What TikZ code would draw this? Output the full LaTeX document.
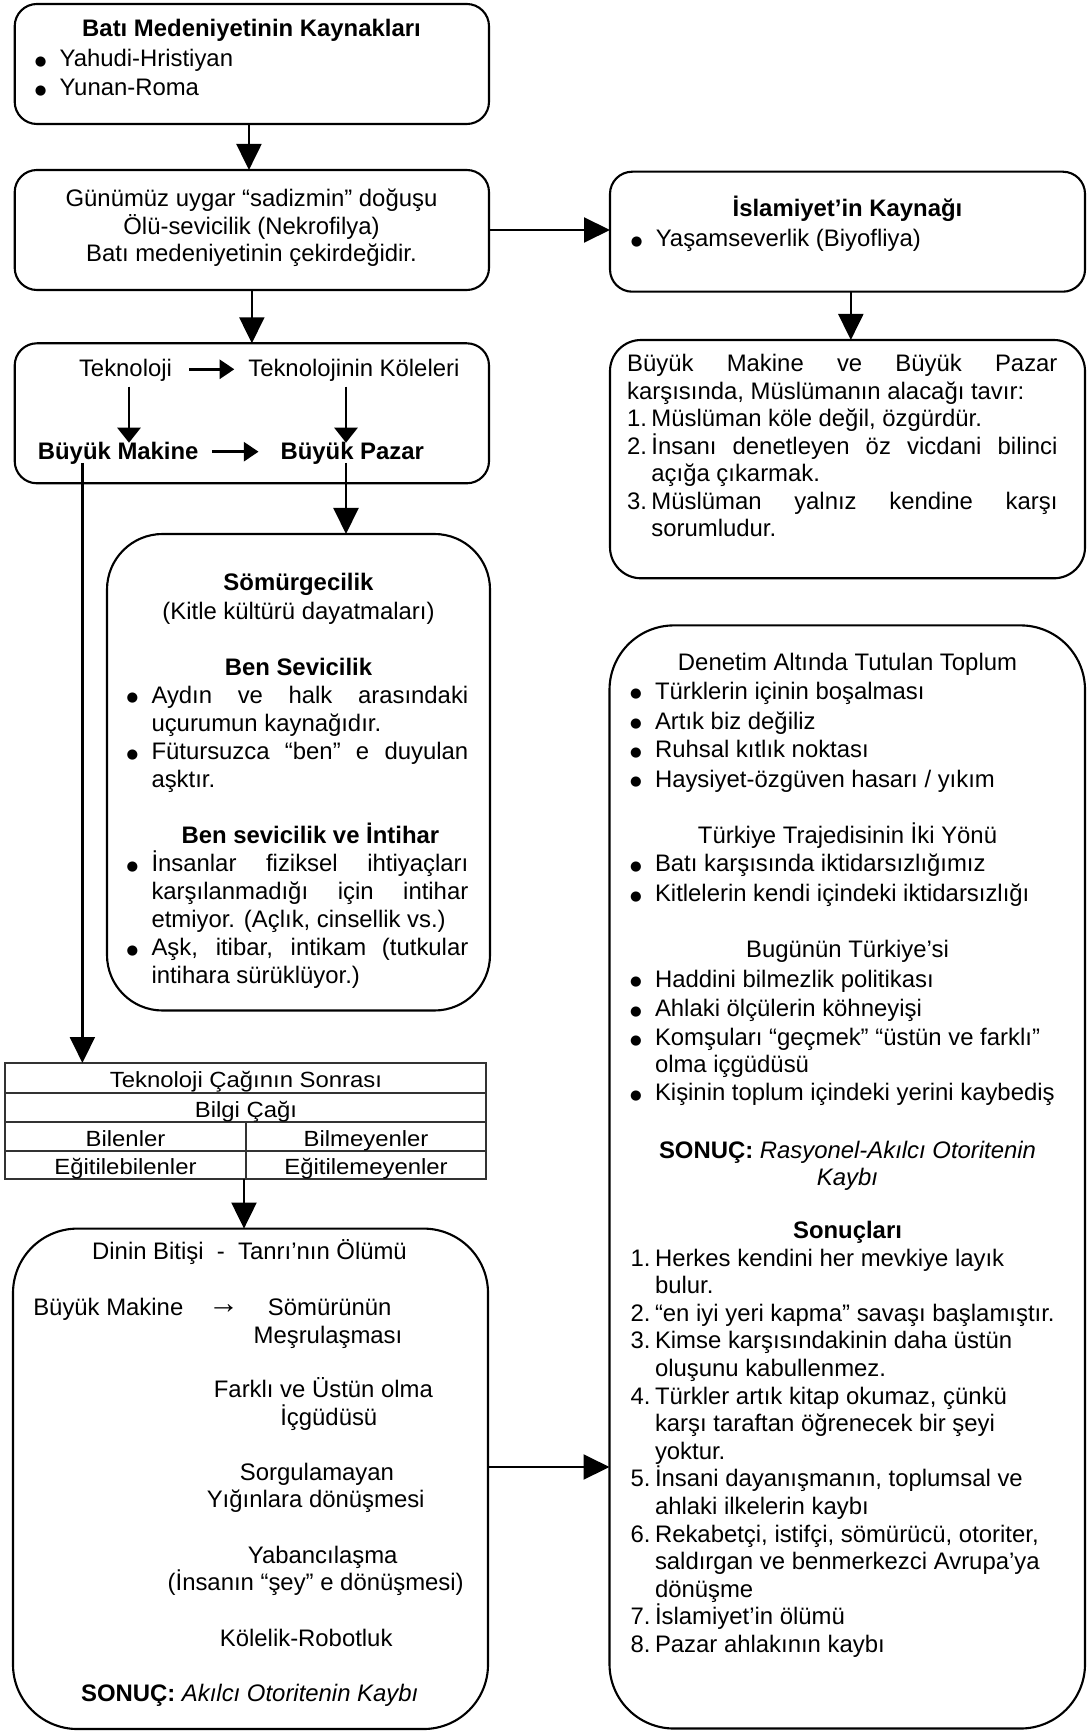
\documentclass[tikz,border=0pt]{standalone}
\usepackage{fontspec}
\setmainfont{Liberation Sans}
\newfontfamily\dotfont{DejaVu Sans}
\usepackage{graphicx}
\usetikzlibrary{arrows.meta,fit}

% one drawing unit
\newlength\pxu
\setlength\pxu{0.45pt}
\newcommand\fs{\fontsize{10.75pt}{12.4pt}\selectfont}
% bullet hung to the left of the text start
\newcommand\bul{\llap{\makebox[38\pxu][c]{\raisebox{0.6pt}{\dotfont\fontsize{6pt}{6pt}\selectfont ●}}}}
% list number hung to the left of the text start
\newcommand\itm[1]{\llap{\makebox[24.3\pxu][l]{#1}}}
% justified line of a given width
\newcommand\jst[2]{\makebox[#1\pxu][s]{#2}}
% slightly condensed table text
\newcommand\sq[1]{\scalebox{1}[0.92]{#1}}

\begin{document}
\begin{tikzpicture}[x=0.45pt,y=-0.45pt,
  box/.style={draw, line width=0.95pt, inner sep=0pt, outer sep=0pt},
  tblline/.style={draw=black!80, line width=0.55pt},
  tc/.style={anchor=base, inner sep=0pt, outer sep=0pt, font=\fs},
  tl/.style={anchor=base west, inner sep=0pt, outer sep=0pt, font=\fs},
  arr/.style={line width=1.1pt, -{Triangle[length=11.7pt,width=11.2pt]}},
  darr/.style={line width=1.1pt, -{Triangle[length=6.8pt,width=10.5pt]}},
  harr/.style={line width=1.1pt, -{Triangle[length=6.6pt,width=8.6pt]}}]

\path[use as bounding box, fill=white] (0,0) rectangle (1087,1731);

% ---------- frames ----------
\node[box, rounded corners=10pt, fit={(14.7,4) (489,124)}] (b1) {};
\node[box, rounded corners=10pt, fit={(14.7,170) (489,290)}] (b2) {};
\node[box, rounded corners=10pt, fit={(14.7,343.3) (489,483.3)}] (b3) {};
\node[box, rounded corners=25pt, fit={(107,534) (490,1010.5)}] (b4) {};
\node[tblline, inner sep=0pt, outer sep=0pt, fit={(5,1063) (486,1179)}] (tbl) {};
\node[box, rounded corners=29pt, fit={(13,1228.6) (488,1729)}] (b8) {};
\node[box, rounded corners=10pt, fit={(610,171.7) (1085,291.7)}] (b5) {};
\node[box, rounded corners=14pt, fit={(610,340) (1085,578.3)}] (b6) {};
\node[box, rounded corners=29pt, fit={(609.5,625.4) (1085,1728.5)}] (b7) {};

% table rules
\draw[tblline] (5,1093) -- (486,1093);
\draw[tblline] (5,1122) -- (486,1122);
\draw[tblline] (5,1151) -- (486,1151);
\draw[tblline] (246,1122) -- (246,1179);

% ---------- Batı Medeniyetinin Kaynakları ----------
\node[tc] (b1t) at (251.5,36.7) {\textbf{Batı Medeniyetinin Kaynakları}};
\node[tl] (b1a) at (59.6,66.7) {\bul Yahudi-Hristiyan};
\node[tl] (b1b) at (59.6,96) {\bul Yunan-Roma};

% ---------- sadizm ----------
\node[tc] (b2a) at (251.5,207) {Günümüz uygar “sadizmin” doğuşu};
\node[tc] (b2b) at (251.5,234.5) {Ölü-sevicilik (Nekrofilya)};
\node[tc] (b2c) at (251.5,262) {Batı medeniyetinin çekirdeğidir.};

% ---------- teknoloji ----------
\node[tl] (tk) at (79,376.7) {Teknoloji};
\node[tl] (tkk) at (248.3,376.7) {Teknolojinin Köleleri};
\node[tl] (bm) at (37.9,460) {\textbf{Büyük Makine}};
\node[tl] (bp) at (280.6,460) {\textbf{Büyük Pazar}};

% ---------- Sömürgecilik ----------
\node[tc] (s1) at (298.5,591) {\textbf{Sömürgecilik}};
\node[tc] (s2) at (298.5,619.1) {(Kitle kültürü dayatmaları)};
\node[tc] (s3) at (298.5,675.2) {\textbf{Ben Sevicilik}};
\node[tl] (s4) at (151.5,703.2) {\bul\jst{316.8}{Aydın ve halk arasındaki}};
\node[tl] (s5) at (151.5,731.3) {uçurumun kaynağıdır.};
\node[tl] (s6) at (151.5,759.4) {\bul\jst{316.8}{Fütursuzca “ben” e duyulan}};
\node[tl] (s7) at (151.5,787.4) {aşktır.};
\node[tc] (s8) at (310.4,843.5) {\textbf{Ben sevicilik ve İntihar}};
\node[tl] (s9) at (151.5,871.6) {\bul\jst{316.8}{İnsanlar fiziksel ihtiyaçları}};
\node[tl] (s10) at (151.5,899.7) {\jst{316.8}{karşılanmadığı için intihar}};
\node[tl] (s11) at (151.5,927.7) {etmiyor. (Açlık, cinsellik vs.)};
\node[tl] (s12) at (151.5,955.8) {\bul\jst{316.8}{Aşk, itibar, intikam (tutkular}};
\node[tl] (s13) at (151.5,983.8) {intihara sürüklüyor.)};

% ---------- table ----------
\node[tc] (r1) at (246,1087) {\sq{Teknoloji Çağının Sonrası}};
\node[tc] (r2) at (246,1117) {\sq{Bilgi Çağı}};
\node[tc] (r3a) at (125.5,1146) {\sq{Bilenler}};
\node[tc] (r3b) at (366,1146) {\sq{Bilmeyenler}};
\node[tc] (r4a) at (125.5,1174) {\sq{Eğitilebilenler}};
\node[tc] (r4b) at (366,1174) {\sq{Eğitilemeyenler}};

% ---------- Dinin Bitişi ----------
\node[tc] (d1) at (249.5,1259) {Dinin Bitişi\ \ -\ \ Tanrı’nın Ölümü};
\node[tl] (d2) at (33.3,1315.5) {Büyük Makine};
\node[tc] (d3) at (223.6,1315.5) {\raisebox{0.8pt}{\scalebox{1.3}{→}}};
\node[tc] (d4) at (329.7,1315.5) {Sömürünün};
\node[tc] (d5) at (328,1343.2) {Meşrulaşması};
\node[tc] (d6) at (323.4,1397) {Farklı ve Üstün olma};
\node[tc] (d7) at (328.8,1425.6) {İçgüdüsü};
\node[tc] (d8) at (317,1480.7) {Sorgulamayan};
\node[tc] (d9) at (315.7,1507.2) {Yığınlara dönüşmesi};
\node[tc] (d10) at (322.7,1563.6) {Yabancılaşma};
\node[tc] (d11) at (315.7,1590.9) {(İnsanın “şey” e dönüşmesi)};
\node[tc] (d12) at (306.2,1646) {Kölelik-Robotluk};
\node[tc] (d13) at (249.7,1701) {\textbf{SONUÇ:} \textit{Akılcı Otoritenin Kaybı}};

% ---------- İslamiyet'in Kaynağı ----------
\node[tc] (i1) at (847.5,216.7) {\textbf{İslamiyet’in Kaynağı}};
\node[tl] (i2) at (655.8,246.7) {\bul Yaşamseverlik (Biyofliya)};

% ---------- Müslümanın tavrı ----------
\node[tl] (m1) at (627.2,371.7) {\jst{430.3}{Büyük Makine ve Büyük Pazar}};
\node[tl] (m2) at (627.2,399.2) {karşısında, Müslümanın alacağı tavır:};
\node[tl] (m3) at (651.4,426.7) {\itm{1.}Müslüman köle değil, özgürdür.};
\node[tl] (m4) at (651.4,454.2) {\itm{2.}\jst{406.1}{İnsanı denetleyen öz vicdani bilinci}};
\node[tl] (m5) at (651.4,481.7) {açığa çıkarmak.};
\node[tl] (m6) at (651.4,509.2) {\itm{3.}\jst{406.1}{Müslüman yalnız kendine karşı}};
\node[tl] (m7) at (651.4,536.7) {sorumludur.};

% ---------- Denetim Altında Tutulan Toplum ----------
\node[tc] (n1) at (847.5,670) {Denetim Altında Tutulan Toplum};
\node[tl] (n2) at (655,699.3) {\bul Türklerin içinin boşalması};
\node[tl] (n3) at (655,729) {\bul Artık biz değiliz};
\node[tl] (n4) at (655,757.5) {\bul Ruhsal kıtlık noktası};
\node[tl] (n5) at (655,787.1) {\bul Haysiyet-özgüven hasarı / yıkım};
\node[tc] (n6) at (847.5,843.2) {Türkiye Trajedisinin İki Yönü};
\node[tl] (n7) at (655,871.8) {\bul Batı karşısında iktidarsızlığımız};
\node[tl] (n8) at (655,901.4) {\bul Kitlelerin kendi içindeki iktidarsızlığı};
\node[tc] (n9) at (847.5,957.5) {Bugünün Türkiye’si};
\node[tl] (n10) at (655,987.1) {\bul Haddini bilmezlik politikası};
\node[tl] (n11) at (655,1016.4) {\bul Ahlaki ölçülerin köhneyişi};
\node[tl] (n12) at (655,1045.7) {\bul Komşuları “geçmek” “üstün ve farklı”};
\node[tl] (n13) at (655,1072) {olma içgüdüsü};
\node[tl] (n14) at (655,1100.4) {\bul Kişinin toplum içindeki yerini kaybediş};
\node[tc] (n15) at (847.5,1158) {\textbf{SONUÇ:} \textit{Rasyonel-Akılcı Otoritenin}};
\node[tc] (n16) at (847.5,1185) {\textit{Kaybı}};
\node[tc] (n17) at (847.5,1238) {\textbf{Sonuçları}};
\node[tl] (o1) at (655,1266) {\itm{1.}Herkes kendini her mevkiye layık};
\node[tl] (o1b) at (655,1293.6) {bulur.};
\node[tl] (o2) at (655,1321.2) {\itm{2.}“en iyi yeri kapma” savaşı başlamıştır.};
\node[tl] (o3) at (655,1348.8) {\itm{3.}Kimse karşısındakinin daha üstün};
\node[tl] (o3b) at (655,1376.4) {oluşunu kabullenmez.};
\node[tl] (o4) at (655,1404) {\itm{4.}Türkler artık kitap okumaz, çünkü};
\node[tl] (o4b) at (655,1431.6) {karşı taraftan öğrenecek bir şeyi};
\node[tl] (o4c) at (655,1459.2) {yoktur.};
\node[tl] (o5) at (655,1486.8) {\itm{5.}İnsani dayanışmanın, toplumsal ve};
\node[tl] (o5b) at (655,1514.4) {ahlaki ilkelerin kaybı};
\node[tl] (o6) at (655,1542) {\itm{6.}Rekabetçi, istifçi, sömürücü, otoriter,};
\node[tl] (o6b) at (655,1569.6) {saldırgan ve benmerkezci Avrupa’ya};
\node[tl] (o6c) at (655,1597.2) {dönüşme};
\node[tl] (o7) at (655,1624.8) {\itm{7.}İslamiyet’in ölümü};
\node[tl] (o8) at (655,1652.4) {\itm{8.}Pazar ahlakının kaybı};

% ---------- connector end points ----------
\coordinate (ha) at (189.4,369.3);
\coordinate (hae) at (234.3,369.3);
\coordinate (hb) at (212.2,451.7);
\coordinate (hbe) at (258.5,451.7);
\coordinate (ka) at (129,386.7);
\coordinate (kb) at (346,386.7);
\coordinate (lm) at (82.4,463);
\coordinate (lp) at (346,463);
\coordinate (ta) at (244,1179);
\coordinate (m8) at (488,1467);

% ---------- connectors ----------
\draw[arr] ([xshift=-1.3pt]b1.south) -- ([xshift=-1.3pt]b2.north);
\draw[arr] (b2.south) -- (b3.north);
\draw[arr] (b2.east) -- (b2.east -| b5.west);
\draw[arr] ([xshift=1.5pt]b5.south) -- ([xshift=1.5pt]b6.north);
\draw[harr] (ha) -- (hae);
\draw[harr] (hb) -- (hbe);
\draw[darr] (ka) -- (ka |- bm.north);
\draw[darr] (kb) -- (kb |- bp.north);
\draw[arr] (lm) -- (lm |- tbl.north);
\draw[arr] (lp) -- (lp |- b4.north);
\draw[arr] (ta) -- (ta |- b8.north);
\draw[arr] (m8) -- (m8 -| b7.west);

\end{tikzpicture}
\end{document}
